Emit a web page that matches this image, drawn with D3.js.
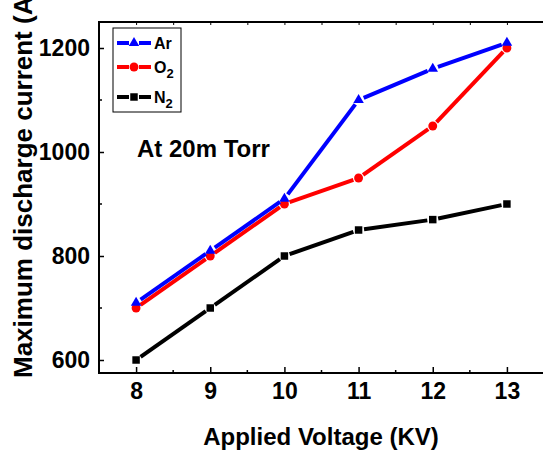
<!DOCTYPE html>
<html>
<head>
<meta charset="utf-8">
<script src="https://cdn.jsdelivr.net/npm/d3@7"></script>
<style>
  body { margin: 0; background: #fff; }
  text { font-family: "Liberation Sans", Arial, sans-serif; font-weight: bold; }
</style>
</head>
<body>
<div id="chart"></div>
<script>
const voltages = [8, 9, 10, 11, 12, 13];
const arValues = [710, 810, 910, 1100, 1160, 1210];
const o2Values = [700, 800, 900, 950, 1050, 1200];
const n2Values = [600, 700, 800, 850, 870, 900];
const yTicks = [600, 800, 1000, 1200];

const width = 543, height = 455;
const plotLeft = 99, plotRight = 544, plotTop = 22, plotBottom = 373;

const svg = d3.select('#chart').append('svg')
  .attr('width', width).attr('height', height);

const x = d3.scaleLinear().domain([7.5, 13.5]).range([plotLeft, plotRight]);
const y = d3.scaleLinear().domain([575, 1250]).range([plotBottom, plotTop]);

// frame
svg.append('rect')
  .attr('x', plotLeft).attr('y', plotTop)
  .attr('width', plotRight - plotLeft).attr('height', plotBottom - plotTop)
  .attr('fill', 'none').attr('stroke', '#000').attr('stroke-width', 2);

// bottom axis
const xAxis = svg.append('g').attr('transform', `translate(0,${plotBottom})`)
  .call(d3.axisBottom(x).tickValues(voltages).tickSize(-6).tickPadding(10).tickFormat(d3.format('d')));
xAxis.select('.domain').remove();
xAxis.selectAll('.tick line').attr('stroke-width', 1.5);
xAxis.selectAll('.tick text').style('font-size', '23px').attr('fill', '#000');

// minor x ticks (bottom + top)
const minorX = d3.range(8.5, 13.5, 1);
svg.append('g').selectAll('line').data(minorX).join('line')
  .attr('x1', (d) => x(d)).attr('x2', (d) => x(d))
  .attr('y1', plotBottom).attr('y2', plotBottom - 3)
  .attr('stroke', '#000').attr('stroke-width', 1.5);
const topAxis = svg.append('g').attr('transform', `translate(0,${plotTop})`)
  .call(d3.axisTop(x).tickValues(voltages.concat(minorX)).tickSize(-3).tickFormat(''));
topAxis.select('.domain').remove();

// left axis
const yAxis = svg.append('g').attr('transform', `translate(${plotLeft},0)`)
  .call(d3.axisLeft(y).tickValues(yTicks).tickSize(-5).tickPadding(9).tickFormat(d3.format('d')));
yAxis.select('.domain').remove();
yAxis.selectAll('.tick line').attr('stroke-width', 1.5);
yAxis.selectAll('.tick text').style('font-size', '23px').attr('fill', '#000');
svg.append('g').selectAll('line').data([700, 900, 1100]).join('line')
  .attr('x1', plotLeft).attr('x2', plotLeft + 3)
  .attr('y1', (d) => y(d)).attr('y2', (d) => y(d))
  .attr('stroke', '#000').attr('stroke-width', 1.5);

// axis titles
svg.append('text')
  .attr('x', 321).attr('y', 445)
  .attr('text-anchor', 'middle').style('font-size', '24px')
  .text('Applied Voltage (KV)');
svg.append('text')
  .attr('transform', 'translate(32,378) rotate(-90)')
  .style('font-size', '26px')
  .text('Maximum discharge current (A)');

// series
const series = [
  { name: 'Ar', values: arValues, color: '#0000ff', marker: d3.symbolTriangle, size: 48 },
  { name: 'O', sub: '2', values: o2Values, color: '#ff0000', marker: d3.symbolCircle, size: 62 },
  { name: 'N', sub: '2', values: n2Values, color: '#000000', marker: d3.symbolSquare, size: 56 }
];

const gap = 5.5;

// draw black first, then red, then blue on top
series.slice().reverse().forEach((s) => {
  const pts = s.values.map((v, i) => [x(voltages[i]), y(v)]);
  const segs = d3.pairs(pts).map(([a, b]) => {
    const dx = b[0] - a[0], dy = b[1] - a[1];
    const len = Math.hypot(dx, dy);
    const ux = dx / len, uy = dy / len;
    return [a[0] + ux * gap, a[1] + uy * gap, b[0] - ux * gap, b[1] - uy * gap];
  });
  svg.append('g').selectAll('line').data(segs).join('line')
    .attr('x1', (d) => d[0]).attr('y1', (d) => d[1])
    .attr('x2', (d) => d[2]).attr('y2', (d) => d[3])
    .attr('stroke', s.color)
    .attr('stroke-width', 4);
  svg.append('g').selectAll('path').data(pts).join('path')
    .attr('transform', (d) => `translate(${d[0]},${d[1]})`)
    .attr('d', d3.symbol().type(s.marker).size(s.size))
    .attr('fill', s.color);
});

// legend
const legend = svg.append('g');
legend.append('rect')
  .attr('x', 113).attr('y', 28).attr('width', 68).attr('height', 84)
  .attr('fill', '#fff').attr('stroke', '#000').attr('stroke-width', 1);
const legendY = [43, 67, 97];
series.forEach((s, i) => {
  const g = legend.append('g').attr('transform', `translate(0,${legendY[i]})`);
  g.append('line')
    .attr('x1', 117).attr('x2', 129)
    .attr('stroke', s.color).attr('stroke-width', 4);
  g.append('line')
    .attr('x1', 139).attr('x2', 151)
    .attr('stroke', s.color).attr('stroke-width', 4);
  g.append('path')
    .attr('transform', 'translate(134,0)')
    .attr('d', d3.symbol().type(s.marker).size(s.size))
    .attr('fill', s.color);
  const t = g.append('text')
    .attr('x', 154).attr('y', 6)
    .style('font-size', '16px')
    .text(s.name);
  if (s.sub) {
    t.append('tspan').attr('dy', 5).style('font-size', '13px').text(s.sub);
  }
});

// annotation
svg.append('text')
  .attr('x', 137).attr('y', 157)
  .style('font-size', '24px')
  .text('At 20m Torr');
</script>
</body>
</html>
